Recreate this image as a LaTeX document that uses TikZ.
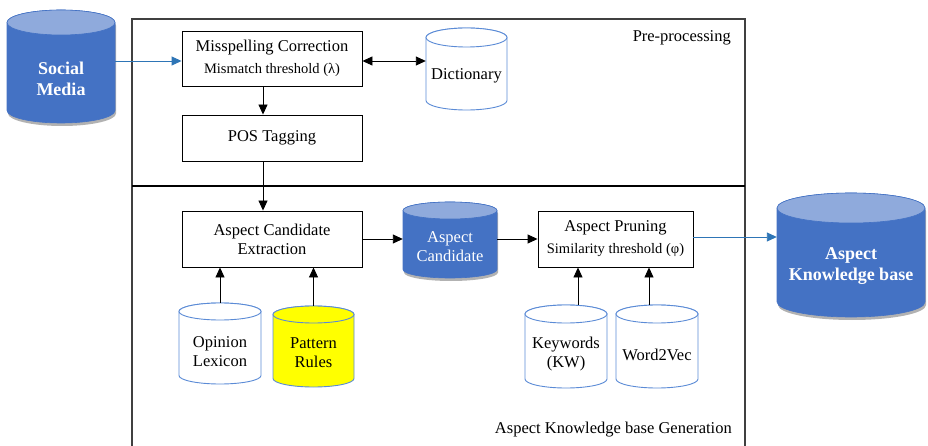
\documentclass[tikz,border=0pt]{standalone}
\usepackage{fontspec}
\setmainfont{Liberation Serif}
\newfontfamily\tnrfont{Liberation Serif}
\usetikzlibrary{arrows.meta}
\definecolor{dbblue}{HTML}{4472C4}
\definecolor{dbtop}{HTML}{8FAADC}
\definecolor{dbline}{HTML}{5B8BD6}
\definecolor{flowblue}{HTML}{2E75B6}
\definecolor{framegray}{HTML}{404040}
\definecolor{ruleyellow}{HTML}{FFFF00}

% #1 name, #2 cx, #3 cy, #4 w, #5 h, #6 ry, #7 body style, #8 top style
\newcommand{\dbcyl}[8]{%
  \path[#7] ({#2-#4/2},{#3+#5/2-#6}) -- ({#2-#4/2},{#3-#5/2+#6})
    arc[start angle=180,end angle=360,x radius={#4/2*1pt},y radius={#6*1pt}]
    -- ({#2+#4/2},{#3+#5/2-#6})
    arc[start angle=0,end angle=180,x radius={#4/2*1pt},y radius={#6*1pt}] -- cycle;
  \path[#8] (#2,{#3+#5/2-#6}) ellipse[x radius={#4/2*1pt},y radius={#6*1pt}];
  \node[inner sep=0pt,minimum width={#4*1pt},minimum height={#5*1pt}] (#1) at (#2,#3) {};
}

\tikzset{
  box/.style={draw=black, line width=0.9pt, fill=white, inner sep=0pt, align=center,
    font=\tnrfont\fontsize{16.5}{19}\selectfont},
  arr/.style={-{Triangle[length=10pt,width=9pt]}, line width=0.9pt, draw=black},
  barr/.style={-{Triangle[length=10pt,width=9pt]}, line width=0.9pt, draw=flowblue, color=flowblue},
  dbarr/.style={{Triangle[length=10pt,width=9pt]}-{Triangle[length=10pt,width=9pt]}, line width=0.9pt},
  whitebody/.style={fill=white, draw=dbline, line width=0.9pt},
  whitetop/.style={fill=white, draw=dbline, line width=0.9pt},
  yellowbody/.style={fill=ruleyellow, draw=dbline, line width=0.9pt},
  bluebody/.style={fill=dbblue, draw=dbblue, line width=0.6pt,
    preaction={fill=black!30, transform canvas={xshift=1pt,yshift=-3pt}}},
  bluetop/.style={fill=dbtop, draw=dbblue, line width=0.6pt},
  dbtext/.style={align=center, inner sep=0pt, font=\tnrfont\fontsize{16.5}{19}\selectfont},
  bigwhite/.style={align=center, inner sep=0pt, text=white, font=\tnrfont\fontsize{18}{21}\selectfont\bfseries},
  tag/.style={inner sep=0pt, font=\tnrfont\fontsize{16.5}{19}\selectfont}
}

\begin{document}
\begin{tikzpicture}[x=1pt,y=1pt]
\useasboundingbox (0,0) rectangle (928,-446);

% frames
\draw[framegray, line width=1.1pt] (132,-446) -- (132,-19) -- (745,-19) -- (745,-446);
\draw[black, line width=1.1pt] (132,-186) -- (745,-186);
\node[tag, anchor=base east] (pretag) at (731,-42) {Pre-processing};
\node[tag, anchor=base east] (gentag) at (732,-433) {Aspect Knowledge base Generation};

% cylinders
\dbcyl{social}{61}{-66.5}{108}{113}{12.5}{bluebody}{bluetop}
\node[bigwhite] (socialt) at (61,-79) {Social\\Media};

\dbcyl{dict}{466.5}{-69}{81}{82}{9.5}{whitebody}{whitetop}
\node[dbtext] (dictt) at (466.5,-76) {Dictionary};

\dbcyl{acand}{450}{-240}{94}{76}{8.5}{bluebody}{bluetop}
\node[dbtext, text=white] (acandt) at (450,-246.5) {Aspect\\Candidate};

\dbcyl{olex}{220}{-343.5}{82}{81}{8.5}{whitebody}{whitetop}
\node[dbtext] (olext) at (220,-351.5) {Opinion\\Lexicon};

\dbcyl{prules}{313.5}{-346.5}{81}{81}{8.5}{yellowbody}{yellowbody}
\node[dbtext] (prulest) at (313.5,-352.5) {Pattern\\Rules};

\dbcyl{kw}{566}{-346.5}{82}{83}{9}{whitebody}{whitetop}
\node[dbtext] (kwt) at (566,-354) {Keywords\\(KW)};

\dbcyl{w2v}{657}{-346.5}{82}{83}{9}{whitebody}{whitetop}
\node[dbtext] (w2vt) at (657,-355) {Word2Vec};

\dbcyl{akb}{851}{-255}{148}{124}{15}{bluebody}{bluetop}
\node[bigwhite] (akbt) at (851,-266) {Aspect\\Knowledge base};

% boxes
\node[box, minimum width=180pt, minimum height=55pt] (misc) at (272,-58.5)
  {Misspelling Correction\\[3pt]{\fontsize{14.5}{17}\selectfont Mismatch threshold (λ)}};
\node[box, minimum width=180pt, minimum height=46pt] (pos) at (272,-138) {POS Tagging};
\node[box, minimum width=180pt, minimum height=56pt] (ace) at (272,-239) {Aspect Candidate\\Extraction};
\node[box, minimum width=155pt, minimum height=56pt] (prune) at (615.5,-239)
  {Aspect Pruning\\[3pt]{\fontsize{14.5}{17}\selectfont Similarity threshold (φ)}};

% connectors
\draw[barr] ([yshift=5.5pt]social.east) -- ([yshift=-2.5pt]misc.west);
\draw[dbarr] ([yshift=-2.5pt]misc.east) -- ([yshift=-2.5pt]misc.east -| dict.west);
\draw[arr] ([xshift=-9pt]misc.south) -- ([xshift=-9pt]pos.north);
\draw[arr] ([xshift=-9pt]pos.south) -- ([xshift=-9pt]ace.north);
\draw[arr] (ace.east) -- (ace.east -| acand.west);
\draw[arr] (prune.west -| acand.east) -- (prune.west);
\draw[barr] ([yshift=2pt]prune.east) -- ([yshift=2pt]prune.east -| akb.west);
\draw[arr] (olex.north) -- (olex.north |- ace.south);
\draw[arr] (prules.north) -- (prules.north |- ace.south);
\draw[arr] ([xshift=12pt]kw.north) -- ([xshift=12pt]kw.north |- prune.south);
\draw[arr] ([xshift=-8pt]w2v.north) -- ([xshift=-8pt]w2v.north |- prune.south);
\end{tikzpicture}
\end{document}
